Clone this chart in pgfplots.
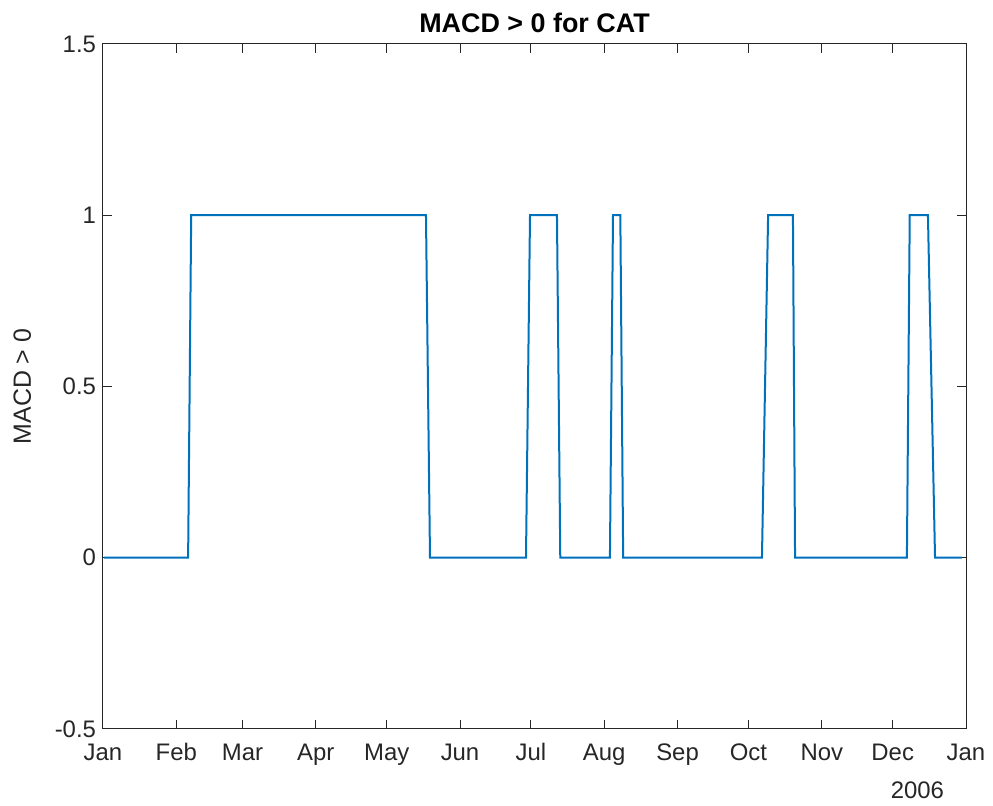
\documentclass[border=0pt]{standalone}
\usepackage{fontspec}
\setmainfont{Liberation Sans}
\usepackage{pgfplots}
\pgfplotsset{compat=1.18}
\usetikzlibrary{calc}

\definecolor{mlblue}{RGB}{0,114,189}
\definecolor{mlgray}{RGB}{38,38,38}

\begin{document}
\begin{tikzpicture}[x=1bp,y=1bp]
\begin{axis}[
    scale only axis,
    width=431.5bp, height=342.5bp,
    xmin=0, xmax=365,
    ymin=-0.5, ymax=1.5,
    xtick={0,31,59,90,120,151,181,212,243,273,304,334,365},
    xticklabels={Jan,Feb,Mar,Apr,May,Jun,Jul,Aug,Sep,Oct,Nov,Dec,Jan},
    ytick={-0.5,0,0.5,1,1.5},
    yticklabels={-0.5,0,0.5,1,1.5},
    tick align=inside,
    major tick length=4.5bp,
    axis line style={mlgray, line width=0.5bp},
    every tick/.style={mlgray, line width=0.5bp},
    ticklabel style={font=\fontsize{12}{14}\selectfont, text=mlgray},
    xticklabel style={text height=9bp, text depth=3bp, yshift=-3bp},
    ylabel={MACD > 0},
    ylabel style={font=\fontsize{12.5}{14}\selectfont, text=mlgray, yshift=5bp},
    title={\textbf{MACD > 0 for CAT}},
    title style={font=\fontsize{13.5}{15}\selectfont, yshift=-4bp},
]
\addplot[mlblue, line width=1bp] coordinates {
    (0.5,0) (36,0) (37.3,1) (136.6,1) (138.3,0)
    (178.9,0) (180.6,1) (192,1) (193.4,0)
    (214.4,0) (215.7,1) (218.8,1) (220,0)
    (278.7,0) (281.3,1) (291.8,1) (292.7,0)
    (340,0) (341.2,1) (348.9,1) (351.9,0) (363.3,0)
};
\end{axis}
\node[anchor=north east, font=\fontsize{12}{14}\selectfont, text=mlgray]
    at ($(current axis.south east)+(-7.5bp,-23bp)$) {2006};
\useasboundingbox ($(current axis.south west)+(-51.5bp,-36.5bp)$)
    rectangle ($(current axis.north east)+(13.5bp,22bp)$);
\end{tikzpicture}
\end{document}
